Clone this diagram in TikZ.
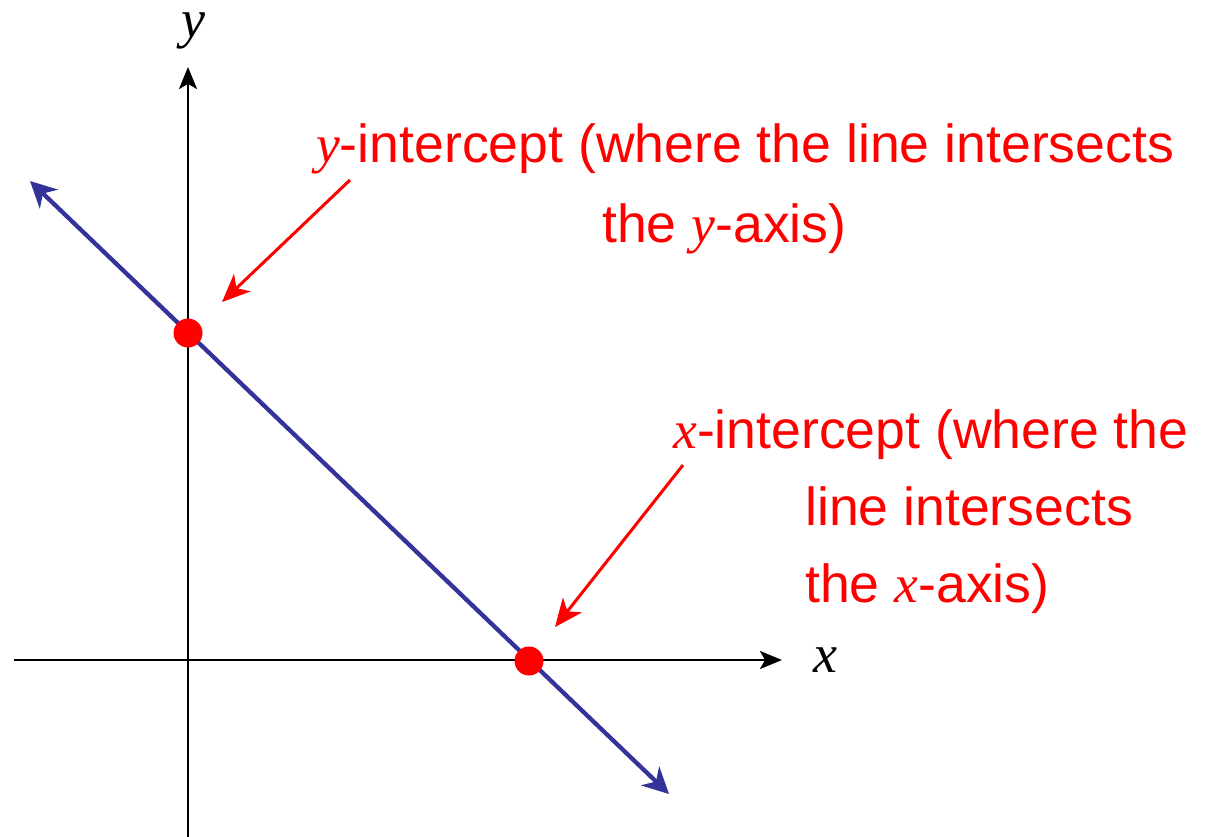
\documentclass[tikz,border=0pt]{standalone}
\usepackage{fontspec}
\setmainfont{Liberation Sans}
\newfontfamily\timesfam{Liberation Serif}
\usetikzlibrary{arrows.meta}
\definecolor{lineblue}{RGB}{51,51,153}
\definecolor{annred}{RGB}{255,0,0}
\newcommand{\mvar}[1]{{\timesfam\itshape #1}}
\tikzset{
  axis/.style={line width=2.4pt, -{Stealth[length=22pt,width=18pt,inset=5pt]}},
  graphline/.style={lineblue, line width=4.3pt, {Stealth[length=26pt,width=26pt,inset=8pt]}-{Stealth[length=26pt,width=26pt,inset=8pt]}},
  pointer/.style={annred, line width=3pt, -{Stealth[length=28pt,width=24pt,inset=8pt]}},
  dot/.style={circle, fill=annred, minimum size=29pt, inner sep=0pt},
  anntext/.style={annred, font=\fontsize{53.6pt}{64pt}\selectfont, inner sep=0pt, anchor=base west},
  axlabel/.style={font=\fontsize{54pt}{64pt}\timesfam\itshape, inner sep=0pt, anchor=base}
}
\begin{document}
\begin{tikzpicture}[x=1pt,y=-1pt]
\useasboundingbox (0,0) rectangle (1206,836);
% axes
\coordinate (xl) at (14,660);
\coordinate (xr) at (782,660);
\coordinate (yb) at (188,840);
\coordinate (yt) at (188,67);
\draw[axis] (xl) -- (xr);
\draw[axis] (yb) -- (yt);
\node[axlabel] (ylab) at (193,37) {y};
\node[axlabel] (xlab) at (825,672) {x};
% line
\coordinate (lstart) at (30,181);
\coordinate (lend) at (669,794);
\draw[graphline] (lstart) -- (lend);
% intercept points
\node[dot] (yint) at (188,333) {};
\node[dot] (xint) at (529,661) {};
% annotations
\node[anntext] (yt1) at (316,162) {\mvar{y}-intercept (where the line intersects};
\node[anntext] (yt2) at (602,242) {the \mvar{y}-axis)};
\node[anntext] (xt1) at (673,448) {\mvar{x}-intercept (where the};
\node[anntext] (xt2) at (805,525) {line intersects};
\node[anntext] (xt3) at (805,602) {the \mvar{x}-axis)};
\coordinate (ya0) at (350,180);
\coordinate (ya1) at (222,302);
\coordinate (xa0) at (683,465);
\coordinate (xa1) at (555,627);
\draw[pointer] (ya0) -- (ya1);
\draw[pointer] (xa0) -- (xa1);
\end{tikzpicture}
\end{document}
